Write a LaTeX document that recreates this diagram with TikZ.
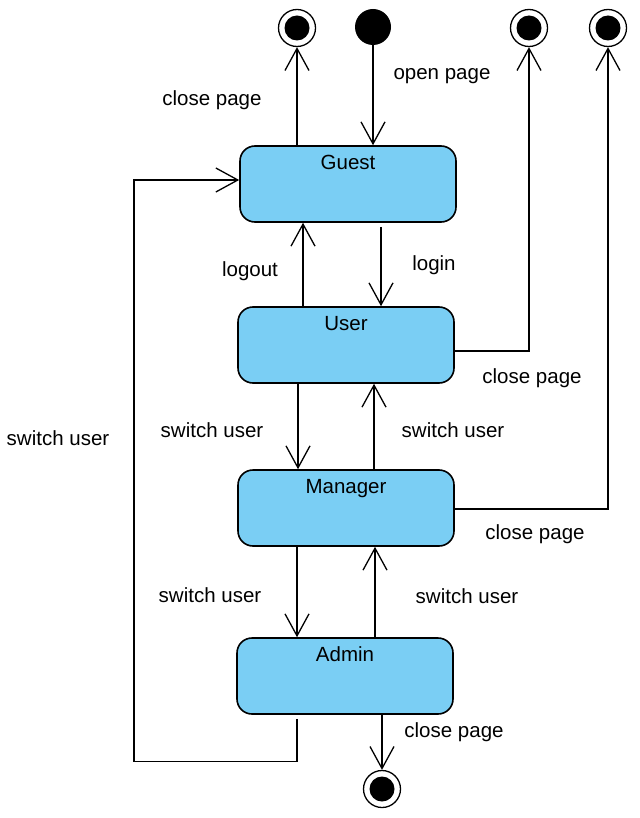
\documentclass[tikz,border=0pt]{standalone}
\usepackage{fontspec}
\setmainfont{Liberation Sans}
\usetikzlibrary{arrows.meta}
\definecolor{stfill}{RGB}{122,206,244}
\begin{document}
\begin{tikzpicture}[x=1pt,y=-1pt,
  every node/.style={font=\fontsize{20.5}{24}\selectfont},
  state/.style={draw=black, line width=1.6pt, fill=stfill, rounded corners=15pt,
    minimum width=216pt, minimum height=76pt, inner sep=0pt},
  slabel/.style={anchor=base, inner sep=0pt},
  tlabel/.style={inner sep=0pt},
  finalst/.style={circle, draw=black, line width=1.3pt, minimum size=37pt, inner sep=0pt,
    path picture={\fill[black] (path picture bounding box.center) circle (12.5pt);}},
  initst/.style={circle, fill=black, minimum size=36pt, inner sep=0pt},
  arr/.style={line width=1.3pt, -{Straight Barb[length=22pt,width=24pt,line width=1.3pt]}},
  ln/.style={line width=1.3pt}
]
\useasboundingbox (0,0) rectangle (639,818);

% states
\node[state] (g) at (348,184) {};
\node[state] (u) at (346,345) {};
\node[state] (m) at (346,508) {};
\node[state] (a) at (345,676) {};
\node[slabel] (gl) at ([yshift=-24pt]g.north) {Guest};
\node[slabel] (ul) at ([yshift=-24pt]u.north) {User};
\node[slabel] (ml) at ([yshift=-24pt]m.north) {Manager};
\node[slabel] (al) at ([yshift=-24pt]a.north) {Admin};

% pseudo states
\node[initst] (i) at (373,27) {};
\node[finalst] (f1) at (297,28) {};
\node[finalst] (f3) at (529,28) {};
\node[finalst] (f4) at (608,28) {};
\node[finalst] (f5) at (382,789) {};

% connectors
\draw[arr] ([xshift=-51pt]g.north) -- (f1.south);
\draw[arr] (i.south) -- (i |- g.north);
\draw[arr] ([xshift=33pt,yshift=-4pt]g.south) -- ([xshift=35pt]u.north);
\draw[arr] ([xshift=-43pt]u.north) -- ([xshift=-45pt]g.south);
\draw[arr] ([yshift=-6pt]u.east) -| (f3.south);
\draw[arr] ([xshift=-48pt]u.south) -- ([xshift=-48pt]m.north);
\draw[arr] ([xshift=28pt]m.north) -- ([xshift=28pt]u.south);
\draw[arr] ([yshift=-1pt]m.east) -| (f4.south);
\draw[arr] ([xshift=-49pt]m.south) -- ([xshift=-48pt]a.north);
\draw[arr] ([xshift=30pt]a.north) -- ([xshift=29pt]m.south);
\draw[arr] (f5 |- a.south) -- (f5.north);
\draw[arr] ([xshift=-48pt,yshift=-4pt]a.south) -- ++(0,43) -- ++(-163,0) |- ([yshift=4pt]g.west);

% labels
\node[tlabel] (t1) at (212,100) {close page};
\node[tlabel] (t2) at (442,76) {open page};
\node[tlabel] (t3) at (250,271) {logout};
\node[tlabel] (t4) at (434,265) {login};
\node[tlabel] (t5) at (532,378) {close page};
\node[tlabel] (t6) at (212,430) {switch user};
\node[tlabel] (t7) at (453,430) {switch user};
\node[tlabel] (t8) at (535,534) {close page};
\node[tlabel] (t9) at (210,595) {switch user};
\node[tlabel] (t10) at (467,596) {switch user};
\node[tlabel] (t11) at (454,732) {close page};
\node[tlabel] (t12) at (58,438) {switch user};
\end{tikzpicture}
\end{document}
